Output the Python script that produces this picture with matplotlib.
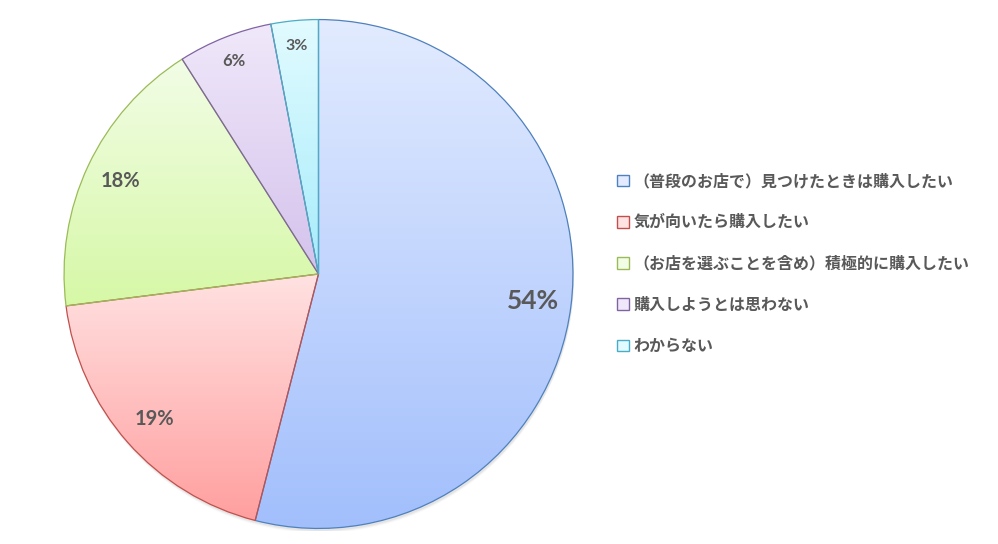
import numpy as np
import matplotlib
matplotlib.use("Agg")
import matplotlib.pyplot as plt
from matplotlib.colors import LinearSegmentedColormap
from matplotlib.patches import Patch, Circle

plt.rcParams['font.family'] = ['Noto Sans CJK JP', 'DejaVu Sans']

labels = ['（普段のお店で）見つけたときは購入したい',
          '気が向いたら購入したい',
          '（お店を選ぶことを含め）積極的に購入したい',
          '購入しようとは思わない',
          'わからない']
values = [54, 19, 18, 6, 3]
top_colors = ['#e2ebff', '#ffe2e2', '#f2fde6', '#f0e8fa', '#e2fbff']
bottom_colors = ['#a2bffc', '#ff9f9f', '#d6f8a6', '#d4c2ec', '#a6ecfb']
edge_colors = ['#4f81bd', '#c0504d', '#9bbb59', '#8064a2', '#4bacc6']
label_sizes = [19, 14.5, 14.5, 12, 11.5]
label_dist = [0.85, 0.86, 0.86, 0.90, 0.90]

fig = plt.figure(figsize=(9.98, 5.44), dpi=100)
ax = fig.add_axes([61.5 / 998, 13 / 544, 514 / 998, 514 / 544])
ax.set_aspect('equal')
ax.axis('off')

# faint shadow under the pie
for k, a in enumerate([0.10, 0.07, 0.04]):
    ax.add_patch(Circle((0.004, -0.010 - 0.004 * k), 1.0, color='#808080',
                        alpha=a, lw=0, zorder=0))

wedges, _ = ax.pie(values, startangle=90, counterclock=False, radius=1,
                   wedgeprops=dict(linewidth=0.9))

for i, w in enumerate(wedges):
    w.set_edgecolor(edge_colors[i])
    w.set_facecolor('none')
    w.set_zorder(3)
    bb = w.get_path().get_extents()
    cmap = LinearSegmentedColormap.from_list('g%d' % i, [bottom_colors[i], top_colors[i]])
    grad = np.linspace(0, 1, 256).reshape(-1, 1)
    im = ax.imshow(grad, cmap=cmap, origin='lower', aspect='auto',
                   extent=[bb.x0, bb.x1, bb.y0, bb.y1], zorder=2)
    im.set_clip_path(w)
    mid = np.deg2rad((w.theta1 + w.theta2) / 2)
    ax.text(label_dist[i] * np.cos(mid), label_dist[i] * np.sin(mid), '%d%%' % values[i],
            ha='center', va='center', fontsize=label_sizes[i], fontweight='bold',
            color='#595959', family=['Lato', 'DejaVu Sans'], zorder=5)

ax.set_xlim(-1.01, 1.01)
ax.set_ylim(-1.01, 1.01)

handles = [Patch(facecolor=(top_colors[i]), edgecolor=edge_colors[i], linewidth=1.0)
           for i in range(len(labels))]
leg = fig.legend(handles, labels, loc='upper left', bbox_to_anchor=(617 / 998, 1 - 173 / 544),
                 frameon=False, fontsize=11.5, labelspacing=1.58, handlelength=0.75,
                 handleheight=0.75, handletextpad=0.3, borderpad=0, borderaxespad=0)
for t in leg.get_texts():
    t.set_color('#595959')
    t.set_fontweight('bold')

fig.savefig('out.png', dpi=100)
